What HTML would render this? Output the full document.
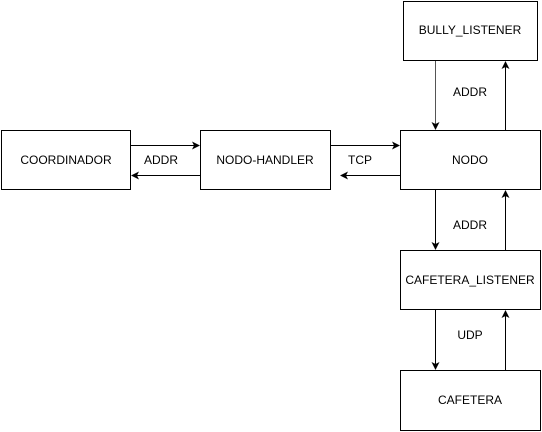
<!DOCTYPE html>
<html><head><meta charset="utf-8"><style>
html,body{margin:0;padding:0;background:#fff;}
svg{display:block;}
text{font-family:"Liberation Sans",Arial,sans-serif;font-size:12px;fill:#000;}
</style></head><body>
<svg width="542" height="432" viewBox="0 0 542 432" xmlns="http://www.w3.org/2000/svg">
<defs>
<marker id="a" markerWidth="8" markerHeight="8" refX="7" refY="4" orient="auto" markerUnits="userSpaceOnUse">
<path d="M0,0 L8,4 L0,8 L2,4 Z" fill="#000"/>
</marker>
</defs>
<g fill="#fff" stroke="#000" stroke-width="1">
<rect x="1.5" y="130.5" width="129" height="59"/>
<rect x="200.5" y="130.5" width="130" height="59"/>
<rect x="400.5" y="130.5" width="140" height="59"/>
<rect x="403.5" y="1.5" width="134" height="59"/>
<rect x="400.5" y="250.5" width="140" height="59"/>
<rect x="400.5" y="370.5" width="140" height="60"/>
</g>
<g stroke="#000" stroke-width="1" fill="none">
<line x1="131" y1="145.5" x2="199" y2="145.5" marker-end="url(#a)"/>
<line x1="200" y1="175.5" x2="132" y2="175.5" marker-end="url(#a)"/>
<line x1="331" y1="145.5" x2="399" y2="145.5" marker-end="url(#a)"/>
<line x1="400" y1="175.5" x2="341" y2="175.5" marker-end="url(#a)"/>
<line x1="435.5" y1="61" x2="435.5" y2="129" marker-end="url(#a)" stroke="#555"/>
<line x1="505.5" y1="130" x2="505.5" y2="62" marker-end="url(#a)"/>
<line x1="435.5" y1="190" x2="435.5" y2="249" marker-end="url(#a)"/>
<line x1="505.5" y1="250" x2="505.5" y2="191" marker-end="url(#a)"/>
<line x1="435.5" y1="310" x2="435.5" y2="369" marker-end="url(#a)"/>
<line x1="505.5" y1="370" x2="505.5" y2="311" marker-end="url(#a)"/>
</g>
<g text-anchor="middle">
<text x="66" y="164">COORDINADOR</text>
<text x="265" y="164">NODO-HANDLER</text>
<text x="470" y="164">NODO</text>
<text x="470" y="34">BULLY_LISTENER</text>
<text x="470" y="284">CAFETERA_LISTENER</text>
<text x="470" y="404">CAFETERA</text>
<text x="161" y="164">ADDR</text>
<text x="360" y="164">TCP</text>
<text x="470" y="96">ADDR</text>
<text x="470" y="229">ADDR</text>
<text x="470" y="339">UDP</text>
</g>
</svg>
</body></html>
